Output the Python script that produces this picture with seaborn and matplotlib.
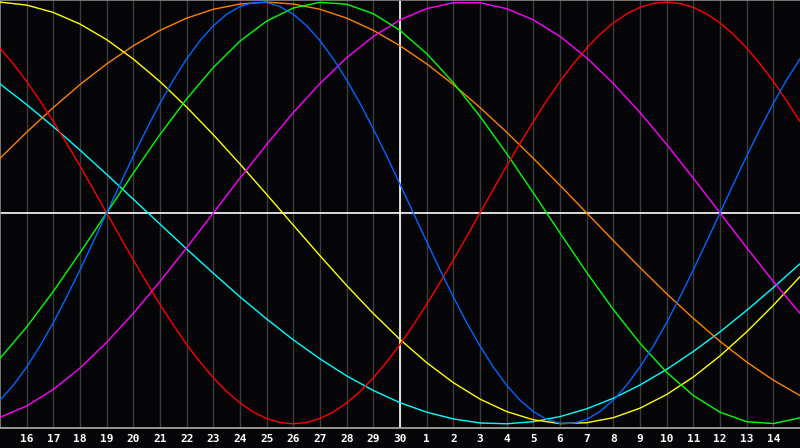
import matplotlib
matplotlib.use("Agg")
import matplotlib.pyplot as plt
import seaborn as sns
import pandas as pd

# day index across the window (0 = left edge, 15 = "today" line)
t = list(range(31))
t_half = [i / 2 for i in range(61)]
tick_pos = list(range(1, 30))
tick_labels = ["16", "17", "18", "19", "20", "21", "22", "23", "24", "25", "26", "27", "28", "29", "30",
               "1", "2", "3", "4", "5", "6", "7", "8", "9", "10", "11", "12", "13", "14"]

# rhythm values (range -1 .. 1)
# physical and emotional are read every half day (on t_half), the others every day (on t)
physical = [-0.888, -0.817, -0.731, -0.631, -0.520, -0.398, -0.270, -0.136, 0.000, 0.136,
            0.270, 0.398, 0.520, 0.631, 0.731, 0.817, 0.888, 0.942, 0.979, 0.998,
            0.998, 0.979, 0.942, 0.888, 0.817, 0.731, 0.631, 0.520, 0.398, 0.270,
            0.136, 0.000, -0.136, -0.270, -0.398, -0.520, -0.631, -0.731, -0.817, -0.888,
            -0.942, -0.979, -0.998, -0.998, -0.979, -0.942, -0.888, -0.817, -0.731, -0.631,
            -0.520, -0.398, -0.270, -0.136, 0.000, 0.136, 0.270, 0.398, 0.520, 0.631, 0.731]
emotional = [0.782, 0.707, 0.624, 0.532, 0.434, 0.330, 0.223, 0.112, 0.000,
             -0.112, -0.223, -0.330, -0.434, -0.532, -0.624, -0.707, -0.782, -0.847, -0.901,
             -0.944, -0.975, -0.994, -1.000,
             -0.994, -0.975, -0.944, -0.901, -0.847, -0.782, -0.707, -0.624, -0.532, -0.434,
             -0.330, -0.223, -0.112, 0.000,
             0.112, 0.223, 0.330, 0.434, 0.532, 0.624, 0.707, 0.782, 0.847, 0.901,
             0.944, 0.975, 0.994, 1.000,
             0.994, 0.975, 0.944, 0.901, 0.847, 0.782, 0.707, 0.624, 0.532, 0.434]
intellectual = [-0.690, -0.541, -0.372, -0.189, 0.000, 0.189, 0.372, 0.541, 0.690, 0.815, 0.910,
                0.972, 0.999, 0.990, 0.945, 0.866, 0.756, 0.618, 0.458, 0.282, 0.095,
                -0.095, -0.282, -0.458, -0.618, -0.756, -0.866, -0.945, -0.990, -0.999, -0.972]
intuitive = [-0.969, -0.916, -0.837, -0.736, -0.614, -0.476, -0.325, -0.165, 0.000, 0.165, 0.325,
             0.476, 0.614, 0.736, 0.837, 0.916, 0.969, 0.997, 0.997, 0.969, 0.916,
             0.837, 0.736, 0.614, 0.476, 0.325, 0.165, 0.000, -0.165, -0.325, -0.476]
aesthetic = [1.000, 0.986, 0.951, 0.896, 0.822, 0.730, 0.623, 0.502, 0.371, 0.232, 0.088,
             -0.058, -0.203, -0.344, -0.477, -0.600, -0.710, -0.805, -0.883, -0.942, -0.981,
             -0.999, -0.995, -0.971, -0.926, -0.861, -0.778, -0.678, -0.564, -0.438, -0.302]
awareness = [0.259, 0.383, 0.500, 0.609, 0.707, 0.793, 0.866, 0.924, 0.966, 0.991, 1.000,
             0.991, 0.966, 0.924, 0.866, 0.793, 0.707, 0.609, 0.500, 0.383, 0.259,
             0.131, 0.000, -0.131, -0.259, -0.383, -0.500, -0.609, -0.707, -0.793, -0.866]
spiritual = [0.612, 0.514, 0.409, 0.298, 0.183, 0.065, -0.053, -0.171, -0.286, -0.398, -0.503,
             -0.602, -0.692, -0.773, -0.842, -0.900, -0.945, -0.977, -0.996, -1.000, -0.990,
             -0.966, -0.929, -0.879, -0.816, -0.742, -0.657, -0.564, -0.462, -0.354, -0.241]

series = {
    "Spiritual": (t, spiritual),
    "Awareness": (t, awareness),
    "Aesthetic": (t, aesthetic),
    "Intuitive": (t, intuitive),
    "Intellectual": (t, intellectual),
    "Emotional": (t_half, emotional),
    "Physical": (t_half, physical),
}
colors = {
    "Spiritual": "#00ffff",
    "Awareness": "#ff8000",
    "Aesthetic": "#ffff00",
    "Intuitive": "#ff00ff",
    "Intellectual": "#00ff00",
    "Emotional": "#ff0000",
    "Physical": "#0066ff",
}

rows = []
for name, (xs, vals) in series.items():
    for d, v in zip(xs, vals):
        rows.append({"day": d, "value": v, "rhythm": name})
df = pd.DataFrame(rows)

sns.set_style("dark")
bg = "#050508"
fig = plt.figure(figsize=(8, 4.48), dpi=100, facecolor=bg)
ax = fig.add_axes([0, 20 / 448, 1, 428 / 448])
ax.set_facecolor(bg)

ax.set_xticks(tick_pos)
ax.set_xticklabels(tick_labels)
ax.set_yticks([])
ax.grid(True, axis="x", color="#3c3c3c", linewidth=1.0)
ax.set_axisbelow(True)

ax.axhline(0, color="white", linewidth=1.2, zorder=1.5)
ax.axvline(15, color="white", linewidth=1.2, zorder=1.5)

sns.lineplot(data=df, x="day", y="value", hue="rhythm", palette=colors,
             linewidth=1.0, legend=False, ax=ax, zorder=3)

ax.set_xlim(0, 30)
ax.set_ylim(-1.02, 1.01)
ax.set_xlabel("")
ax.set_ylabel("")

for side in ["left", "top", "bottom"]:
    ax.spines[side].set_visible(True)
    ax.spines[side].set_linewidth(1.2)
ax.spines["left"].set_color("#8a8a8a")
ax.spines["top"].set_color("#8a8a8a")
ax.spines["bottom"].set_color("#b0b0b0")
ax.spines["right"].set_visible(False)

ax.tick_params(axis="x", length=0, pad=4.5, colors="white")
for lab in ax.get_xticklabels():
    lab.set_fontfamily("DejaVu Sans Mono")
    lab.set_fontweight("bold")
    lab.set_fontsize(8)
    lab.set_color("white")

fig.savefig("out.png", dpi=100, facecolor=bg)
